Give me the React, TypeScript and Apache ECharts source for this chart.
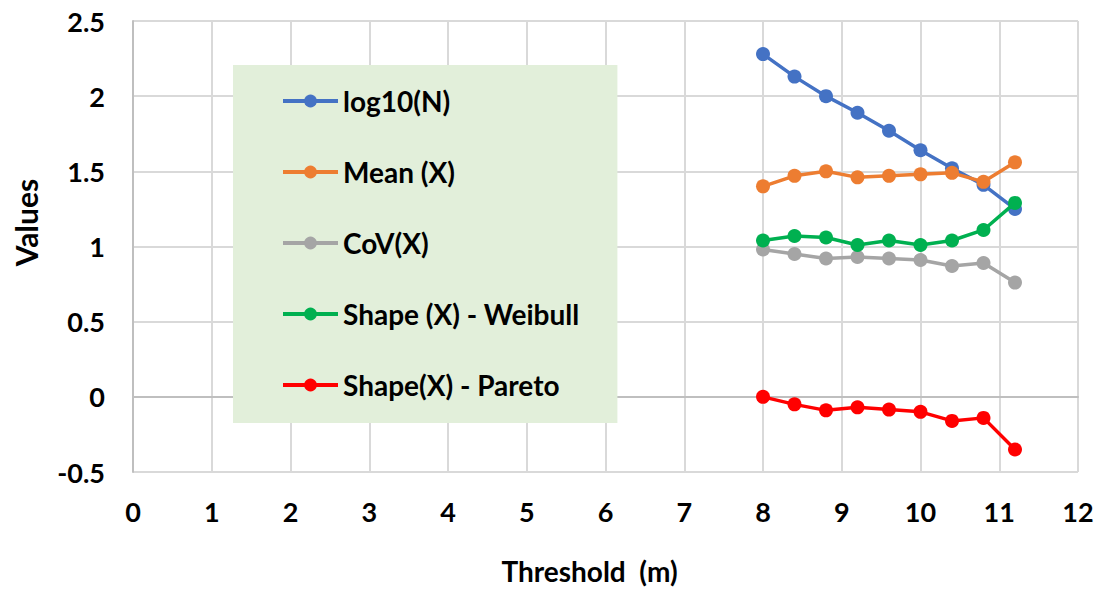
import React, { useEffect, useRef } from "react";
import * as echarts from "echarts";

const thresholds = [8, 8.4, 8.8, 9.2, 9.6, 10, 10.4, 10.8, 11.2];
const log10N = [2.28, 2.13, 2.0, 1.89, 1.77, 1.64, 1.52, 1.41, 1.25];
const meanX = [1.4, 1.47, 1.5, 1.46, 1.47, 1.48, 1.49, 1.43, 1.56];
const covX = [0.98, 0.95, 0.92, 0.93, 0.92, 0.91, 0.87, 0.89, 0.76];
const shapeWeibull = [1.04, 1.07, 1.06, 1.01, 1.04, 1.01, 1.04, 1.11, 1.29];
const shapePareto = [0.0, -0.05, -0.09, -0.07, -0.085, -0.1, -0.16, -0.14, -0.35];

const seriesNames = ["log10(N)", "Mean (X)", "CoV(X)", "Shape (X) - Weibull", "Shape(X) - Pareto"];
const seriesValues = [log10N, meanX, covX, shapeWeibull, shapePareto];
const seriesColors = ["#4472C4", "#ED7D31", "#A5A5A5", "#00B050", "#FF0000"];

const xTitle = "Threshold  (m)";
const yTitle = "Values";

const FONT = "Lato";

export default function App() {
  const ref = useRef<HTMLDivElement>(null);
  useEffect(() => {
    if (!ref.current) return;
    const chart = echarts.init(ref.current, undefined, { renderer: "svg" });
    const option = {
      animation: false,
      backgroundColor: "#ffffff",
      grid: { left: 133, right: 23, top: 21, bottom: 117 },
      xAxis: {
        type: "value",
        min: 0,
        max: 12,
        interval: 1,
        name: xTitle,
        nameLocation: "middle",
        nameGap: 85,
        nameTextStyle: {
          fontFamily: FONT,
          fontWeight: "bold",
          fontSize: 28,
          color: "#000",
          padding: [0, 32, 0, 0],
        },
        axisLine: { show: true, lineStyle: { color: "#BFBFBF", width: 2 } },
        axisTick: { show: false },
        axisLabel: {
          margin: 26,
          fontFamily: FONT,
          fontWeight: "bold",
          fontSize: 27,
          color: "#000",
        },
        splitLine: { show: true, lineStyle: { color: "#D9D9D9", width: 2 } },
      },
      yAxis: {
        type: "value",
        min: -0.5,
        max: 2.5,
        interval: 0.5,
        name: yTitle,
        nameLocation: "middle",
        nameGap: 92,
        nameTextStyle: {
          fontFamily: FONT,
          fontWeight: "bold",
          fontSize: 30,
          color: "#000",
          padding: [0, 0, 0, 48],
        },
        axisLine: { show: true, lineStyle: { color: "#BFBFBF", width: 2 } },
        axisTick: { show: false },
        axisLabel: {
          margin: 28,
          fontFamily: FONT,
          fontWeight: "bold",
          fontSize: 27,
          color: "#000",
        },
        splitLine: { show: true, lineStyle: { color: "#D9D9D9", width: 2 } },
      },
      legend: {
        orient: "vertical",
        left: 233,
        top: 65,
        backgroundColor: "#E2EFDA",
        padding: [22, 38, 24, 48],
        itemWidth: 55,
        itemHeight: 16,
        itemGap: 43,
        lineStyle: { width: 4 },
        textStyle: {
          fontFamily: FONT,
          fontWeight: "bold",
          fontSize: 28,
          lineHeight: 26,
          color: "#000",
        },
        data: seriesNames,
      },
      series: seriesNames.map((name, i) => ({
        name,
        type: "line",
        data: thresholds.map((x, j) => [x, seriesValues[i][j]]),
        symbol: "circle",
        symbolSize: 14,
        lineStyle: { color: seriesColors[i], width: 3.5 },
        itemStyle: { color: seriesColors[i] },
        z: 5 + i,
      })),
    };
    chart.setOption(option as any);
    return () => chart.dispose();
  }, []);
  return (
    <div
      ref={ref}
      style={{ position: "fixed", left: 0, top: 0, width: 1101, height: 590 }}
    />
  );
}
